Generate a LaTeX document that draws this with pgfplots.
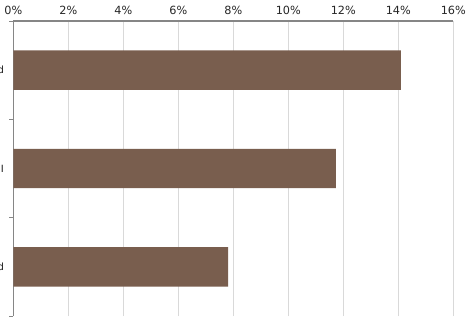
\documentclass[border=0pt]{standalone}
\usepackage{pgfplots}
\pgfplotsset{compat=1.18}
\usepackage{fontspec}
\setmainfont{DejaVu Sans}
\definecolor{barbrown}{RGB}{121,94,78}
\definecolor{gridgray}{RGB}{217,217,217}
\definecolor{axisgray}{RGB}{134,134,134}
\begin{document}
\begin{tikzpicture}[x=1bp,y=1bp]
\useasboundingbox (-13.3,-7) rectangle (457.7,316);
\clip (-13.3,-7) rectangle (457.7,316);
\begin{axis}[
  at={(0,0)}, anchor=south west,
  scale only axis,
  width=440bp, height=295bp,
  xbar,
  xmin=0, xmax=16,
  ymin=0.5, ymax=3.5,
  axis x line*=top,
  axis y line*=left,
  x axis line style={draw=axisgray, line width=1.6bp},
  y axis line style={draw=axisgray, line width=0.9bp},
  xtick={0,2,4,6,8,10,12,14,16},
  xticklabels={0\%,2\%,4\%,6\%,8\%,10\%,12\%,14\%,16\%},
  xticklabel style={font=\fontsize{11.3}{13}\selectfont, text=black!85, yshift=-1bp},
  xmajorgrids,
  major x grid style={draw=gridgray, line width=0.8bp},
  x tick style={draw=none},
  ytick={1,2,3},
  yticklabels={d,I,d},
  y tick style={draw=none},
  minor ytick={0.5,1.5,2.5,3.5},
  minor y tick style={draw=axisgray, line width=0.7bp},
  minor tick length=4bp,
  tick align=outside,
  yticklabel style={font=\fontsize{10}{12}\selectfont, text=black!90, anchor=east, inner sep=0pt, xshift=-5bp},
  bar width=0.4,
]
\addplot[fill=barbrown, draw=none] coordinates {(14.09,3) (11.73,2) (7.81,1)};
\end{axis}
\end{tikzpicture}
\end{document}
